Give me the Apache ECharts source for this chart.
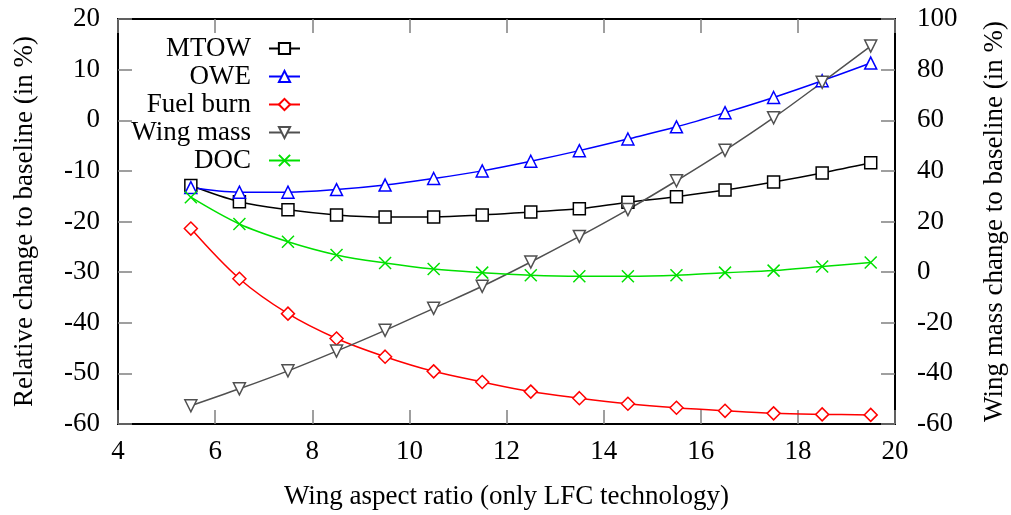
<!DOCTYPE html>
<html>
<head>
<meta charset="utf-8">
<script src="https://cdn.jsdelivr.net/npm/echarts@6/dist/echarts.min.js"></script>
<style>
html,body{margin:0;padding:0;background:#fff;}
#main{width:1011px;height:515px;}
</style>
</head>
<body>
<div id="main"></div>
<script>
var aspectRatio = [5.5, 6.5, 7.5, 8.5, 9.5, 10.5, 11.5, 12.5, 13.5, 14.5, 15.5, 16.5, 17.5, 18.5, 19.5];
var mtow     = [-12.9, -16.1, -17.7, -18.7, -19.1, -19.1, -18.7, -18.1, -17.5, -16.2, -15.1, -13.8, -12.2, -10.4, -8.4];
var owe      = [-13.3, -14.2, -14.2, -13.7, -12.8, -11.5, -10.0, -8.1, -6.0, -3.7, -1.3, 1.5, 4.5, 7.8, 11.3];
var fuelBurn = [-21.4, -31.3, -38.2, -43.1, -46.7, -49.6, -51.7, -53.6, -54.9, -56.0, -56.8, -57.4, -57.9, -58.1, -58.2];
var wingMass = [-52.8, -46.1, -39.0, -31.2, -23.0, -14.3, -5.6, 4.0, 14.1, 24.7, 36.1, 48.1, 61.0, 75.0, 89.3];
var doc      = [-15.2, -20.5, -24.0, -26.6, -28.2, -29.4, -30.1, -30.6, -30.8, -30.8, -30.6, -30.1, -29.7, -28.9, -28.1];
var seriesNames = ['MTOW', 'OWE', 'Fuel burn', 'Wing mass', 'DOC'];

var font = '"Liberation Serif", "DejaVu Serif", serif';
var tickColor = '#808080';

function pairs(ys) {
    return aspectRatio.map(function (x, i) { return [x, ys[i]]; });
}

function makeSeries(name, ys, color, symbol, extra) {
    var s = {
        name: name,
        type: 'line',
        data: pairs(ys),
        smooth: 0.35,
        symbol: symbol,
        symbolSize: 12,
        lineStyle: { color: color, width: 1.5 },
        itemStyle: { color: '#fff', borderColor: color, borderWidth: 1.5 },
        emphasis: { disabled: true },
        z: 3
    };
    for (var k in extra) s[k] = extra[k];
    return s;
}

var chart = echarts.init(document.getElementById('main'));

var legends = seriesNames.map(function (n, i) {
    return {
        data: [n],
        right: 710,
        top: 35 + i * 28,
        orient: 'horizontal',
        align: 'right',
        padding: 0,
        itemWidth: 31,
        itemHeight: 14,
        selectedMode: false,
        textStyle: { fontFamily: font, fontSize: 27, color: '#000', padding: [0, 13, 0, 0] }
    };
});

var axisText = { fontFamily: font, fontSize: 27, color: '#000' };
var innerTick = { show: true, inside: true, length: 14, lineStyle: { color: tickColor, width: 1.5 } };

var option = {
    backgroundColor: '#fff',
    animation: false,
    textStyle: { fontFamily: font },
    grid: { left: 118, right: 116, top: 19, bottom: 91, containLabel: false, outerBoundsMode: 'none',
        show: true, borderColor: '#000', borderWidth: 2, backgroundColor: 'transparent' },
    legend: legends,
    xAxis: [{
        type: 'value',
        min: 4, max: 20, interval: 2,
        name: 'Wing aspect ratio (only LFC technology)',
        nameLocation: 'middle',
        nameGap: 59,
        nameTextStyle: axisText,
        axisLine: { show: false, onZero: false },
        axisTick: innerTick,
        axisLabel: { fontFamily: font, fontSize: 27, color: '#000', margin: 14 },
        splitLine: { show: false }
    }, {
        type: 'value',
        position: 'top',
        min: 4, max: 20, interval: 2,
        axisLine: { show: false, onZero: false },
        axisTick: innerTick,
        axisLabel: { show: false },
        splitLine: { show: false }
    }],
    yAxis: [{
        type: 'value',
        min: -60, max: 20, interval: 10,
        name: 'Relative change to baseline (in %)',
        nameLocation: 'middle',
        nameGap: 80,
        nameTextStyle: axisText,
        axisLine: { show: false, onZero: false },
        axisTick: innerTick,
        axisLabel: { fontFamily: font, fontSize: 27, color: '#000', margin: 18 },
        splitLine: { show: false }
    }, {
        type: 'value',
        position: 'right',
        min: -60, max: 100, interval: 20,
        name: 'Wing mass change to baseline (in %)',
        nameLocation: 'middle',
        nameGap: 86,
        nameTextStyle: axisText,
        axisLine: { show: false, onZero: false },
        axisTick: innerTick,
        axisLabel: { fontFamily: font, fontSize: 27, color: '#000', margin: 22 },
        splitLine: { show: false }
    }],
    series: [
        makeSeries('MTOW', mtow, '#000000', 'rect'),
        makeSeries('OWE', owe, '#0000ff', 'triangle'),
        makeSeries('Fuel burn', fuelBurn, '#ff0000', 'diamond', { symbolSize: 13 }),
        makeSeries('Wing mass', wingMass, '#505050', 'triangle', { yAxisIndex: 1, symbolRotate: 180 }),
        makeSeries('DOC', doc, '#00e000', 'path://M0,0L10,10M10,0L0,10', { symbolSize: 12 })
    ]
};

option && chart.setOption(option);
</script>
</body>
</html>
